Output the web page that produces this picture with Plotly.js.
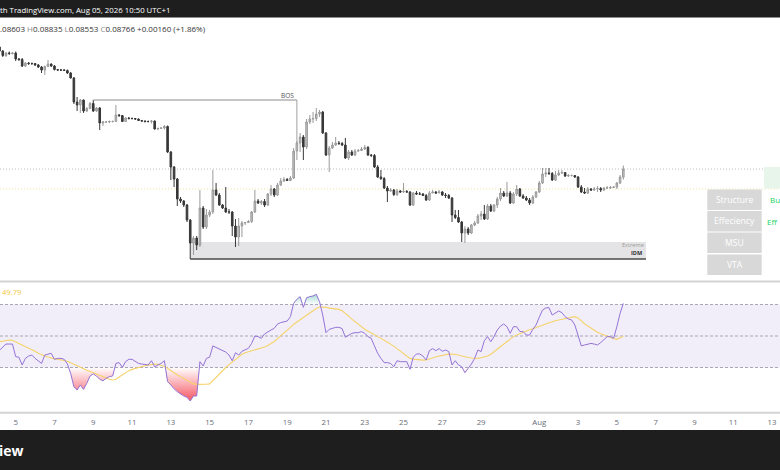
<!DOCTYPE html>
<html><head><meta charset="utf-8">
<script src="https://cdn.plot.ly/plotly-3.0.1.min.js"></script>
<style>html,body{margin:0;padding:0;background:#fff;overflow:hidden}#chart{width:780px;height:470px}</style>
</head><body><div id="chart"></div>
<script>
// ---- data (4h candles) ----
const barStart = '2026-07-04T04:00:00Z';
const barHours = 4;
const open = [0.11206,0.11126,0.11036,0.11086,0.11076,0.11086,0.10966,0.10956,0.10826,0.10886,
0.10876,0.10876,0.10846,0.10806,0.10746,0.10816,0.10866,0.10826,0.10756,0.10746,
0.10746,0.10736,0.10686,0.10586,0.10106,0.10046,0.10146,0.09926,0.09976,0.10076,
0.09926,0.09986,0.09686,0.09706,0.09706,0.09716,0.09716,0.09846,0.09836,0.09716,
0.09786,0.09776,0.09776,0.09766,0.09736,0.09726,0.09716,0.09716,0.09726,0.09566,
0.09576,0.09586,0.09616,0.09106,0.08806,0.08566,0.08166,0.08126,0.08046,0.07746,
0.07286,0.07386,0.07246,0.07986,0.07606,0.07846,0.07906,0.08346,0.08246,0.08046,
0.07986,0.07906,0.07906,0.07626,0.07406,0.07626,0.07686,0.07696,0.07716,0.07906,
0.08126,0.08086,0.08116,0.08046,0.08266,0.08366,0.08246,0.08446,0.08526,0.08556,
0.08536,0.08586,0.09126,0.09286,0.09406,0.09206,0.09706,0.09766,0.09776,0.09866,
0.09906,0.09486,0.09046,0.09186,0.09246,0.09286,0.09276,0.09246,0.08986,0.09106,
0.09046,0.09126,0.09136,0.09166,0.09196,0.09046,0.09036,0.08806,0.08606,0.08576,
0.08386,0.08326,0.08346,0.08256,0.08326,0.08306,0.08316,0.08306,0.08046,0.08286,
0.08266,0.08266,0.08236,0.08146,0.08286,0.08306,0.08286,0.08306,0.08246,0.08236,
0.08186,0.07846,0.07796,0.07706,0.07486,0.07566,0.07486,0.07646,0.07686,0.07826,
0.07866,0.07766,0.08026,0.07926,0.08046,0.08166,0.08286,0.08226,0.08286,0.08086,
0.08266,0.08366,0.08226,0.08186,0.08146,0.08086,0.08206,0.08306,0.08486,0.08666,
0.08686,0.08676,0.08546,0.08646,0.08686,0.08696,0.08626,0.08636,0.08636,0.08606,
0.08406,0.08306,0.08286,0.08366,0.08346,0.08366,0.08376,0.08346,0.08386,0.08386,
0.08396,0.08406,0.08486,0.08603];
const high = [0.11226,0.11146,0.11106,0.11116,0.11106,0.11116,0.10986,0.10986,0.10906,0.10906,
0.10896,0.10886,0.10866,0.10826,0.10836,0.10946,0.10876,0.10846,0.10766,0.10766,
0.10766,0.10756,0.10706,0.10606,0.10206,0.10166,0.10156,0.10006,0.10106,0.10146,
0.10006,0.10006,0.09726,0.09726,0.09736,0.09736,0.10046,0.09866,0.09846,0.09806,
0.09806,0.09796,0.09786,0.09776,0.09746,0.09736,0.09736,0.09746,0.09736,0.09596,
0.09606,0.09646,0.09636,0.09126,0.08826,0.08586,0.08206,0.08146,0.08066,0.07766,
0.07426,0.07426,0.08346,0.08026,0.07966,0.07946,0.08746,0.08486,0.08286,0.08066,
0.08406,0.07966,0.07926,0.07766,0.07786,0.07726,0.07706,0.07746,0.07926,0.08346,
0.08166,0.08146,0.08166,0.08286,0.08446,0.08386,0.08486,0.08586,0.08606,0.08586,
0.08626,0.09186,0.09326,0.09486,0.09446,0.09766,0.09846,0.09906,0.09986,0.09946,
0.09926,0.09506,0.09226,0.09306,0.09406,0.09326,0.09306,0.09386,0.09146,0.09146,
0.09166,0.09166,0.09206,0.09246,0.09226,0.09066,0.09066,0.08846,0.08746,0.08606,
0.08426,0.08386,0.08366,0.08366,0.08346,0.08486,0.08346,0.08326,0.08306,0.08326,
0.08306,0.08286,0.08266,0.08326,0.08346,0.08326,0.08346,0.08326,0.08286,0.08266,
0.08206,0.07946,0.07946,0.07726,0.07626,0.07606,0.07666,0.07726,0.07866,0.07926,
0.08046,0.08066,0.08066,0.08066,0.08206,0.08386,0.08326,0.08506,0.08326,0.08306,
0.08446,0.08386,0.08266,0.08226,0.08186,0.08246,0.08326,0.08526,0.08786,0.08786,
0.08786,0.08706,0.08726,0.08746,0.08746,0.08706,0.08666,0.08656,0.08646,0.08626,
0.08446,0.08386,0.08406,0.08386,0.08406,0.08426,0.08406,0.08406,0.08426,0.08426,
0.08426,0.08506,0.08646,0.08835];
const low = [0.11106,0.11006,0.11006,0.11046,0.11056,0.10926,0.10926,0.10806,0.10806,0.10846,
0.10846,0.10826,0.10786,0.10686,0.10646,0.10806,0.10806,0.10736,0.10726,0.10726,
0.10726,0.10666,0.10576,0.10066,0.09926,0.09886,0.09886,0.09906,0.09966,0.09906,
0.09906,0.09546,0.09626,0.09686,0.09686,0.09696,0.09706,0.09806,0.09706,0.09706,
0.09756,0.09756,0.09746,0.09726,0.09706,0.09696,0.09696,0.09676,0.09556,0.09546,
0.09566,0.09556,0.09086,0.08546,0.08406,0.08026,0.08086,0.08006,0.07706,0.06966,
0.07046,0.07146,0.07206,0.07566,0.07566,0.07806,0.07866,0.08226,0.08026,0.07966,
0.07886,0.07866,0.07426,0.07206,0.07226,0.07406,0.07646,0.07686,0.07686,0.07886,
0.08066,0.08046,0.08006,0.08026,0.08226,0.08206,0.08226,0.08426,0.08506,0.08526,
0.08526,0.08566,0.08946,0.09106,0.08946,0.09166,0.09666,0.09686,0.09726,0.09806,
0.09466,0.09026,0.08706,0.09166,0.09226,0.09246,0.09226,0.08966,0.08946,0.09026,
0.09026,0.09106,0.09126,0.09146,0.09026,0.09006,0.08786,0.08586,0.08546,0.08366,
0.08106,0.08306,0.08226,0.08226,0.08286,0.08286,0.08286,0.08026,0.08026,0.08246,
0.08246,0.08226,0.08126,0.08126,0.08286,0.08266,0.08286,0.08226,0.08186,0.08166,
0.07706,0.07766,0.07686,0.07306,0.07286,0.07446,0.07466,0.07626,0.07666,0.07746,
0.07746,0.07746,0.07906,0.07906,0.07986,0.08126,0.08206,0.08206,0.08066,0.08066,
0.08226,0.08206,0.08166,0.08126,0.08046,0.08066,0.08186,0.08286,0.08466,0.08606,
0.08646,0.08526,0.08526,0.08626,0.08666,0.08606,0.08606,0.08616,0.08586,0.08386,
0.08286,0.08266,0.08266,0.08326,0.08326,0.08306,0.08306,0.08326,0.08366,0.08366,
0.08386,0.08366,0.08466,0.08553];
const close = [0.11126,0.11036,0.11086,0.11076,0.11086,0.10966,0.10956,0.10826,0.10886,0.10876,
0.10876,0.10846,0.10806,0.10746,0.10816,0.10866,0.10826,0.10756,0.10746,0.10746,
0.10736,0.10686,0.10586,0.10106,0.10046,0.10146,0.09926,0.09976,0.10076,0.09926,
0.09986,0.09686,0.09706,0.09706,0.09716,0.09716,0.09846,0.09836,0.09716,0.09786,
0.09776,0.09776,0.09766,0.09736,0.09726,0.09716,0.09716,0.09726,0.09566,0.09576,
0.09586,0.09616,0.09106,0.08806,0.08566,0.08166,0.08126,0.08046,0.07746,0.07286,
0.07386,0.07246,0.07986,0.07606,0.07846,0.07906,0.08346,0.08246,0.08046,0.07986,
0.07906,0.07906,0.07626,0.07406,0.07626,0.07686,0.07696,0.07716,0.07906,0.08126,
0.08086,0.08116,0.08046,0.08266,0.08366,0.08246,0.08446,0.08526,0.08556,0.08536,
0.08586,0.09126,0.09286,0.09406,0.09206,0.09706,0.09766,0.09776,0.09866,0.09906,
0.09486,0.09046,0.09186,0.09246,0.09286,0.09276,0.09246,0.08986,0.09106,0.09046,
0.09126,0.09136,0.09166,0.09196,0.09046,0.09036,0.08806,0.08606,0.08576,0.08386,
0.08326,0.08346,0.08256,0.08326,0.08306,0.08316,0.08306,0.08046,0.08286,0.08266,
0.08266,0.08236,0.08146,0.08286,0.08306,0.08286,0.08306,0.08246,0.08236,0.08186,
0.07846,0.07796,0.07706,0.07486,0.07566,0.07486,0.07646,0.07686,0.07826,0.07866,
0.07766,0.08026,0.07926,0.08046,0.08166,0.08286,0.08226,0.08286,0.08086,0.08266,
0.08366,0.08226,0.08186,0.08146,0.08086,0.08206,0.08306,0.08486,0.08666,0.08686,
0.08676,0.08546,0.08646,0.08686,0.08696,0.08626,0.08636,0.08636,0.08606,0.08406,
0.08306,0.08286,0.08366,0.08346,0.08366,0.08376,0.08346,0.08386,0.08386,0.08396,
0.08406,0.08486,0.08606,0.08766];
const rsi = [41.0,42.8,44.9,44.9,44.9,36.9,36.5,31.6,35.8,37.3,
37.9,35.8,34.3,32.6,37.9,38.6,39.0,35.2,35.8,35.8,
35.2,32.2,26.3,17.8,15.7,18.9,16.1,20.0,24.6,25.9,
24.6,22.5,21.6,23.1,24.2,24.6,32.6,33.1,30.1,33.7,
35.2,35.2,33.7,32.6,32.2,31.8,31.6,34.3,30.5,31.6,
32.6,34.3,21.0,18.9,16.4,14.7,13.0,11.9,11.1,8.7,
11.9,11.9,33.7,31.0,35.8,36.5,43.7,42.6,41.5,40.7,
39.8,37.9,34.3,39.4,37.9,40.3,41.1,42.2,45.3,50.0,
49.6,48.5,51.3,52.3,53.8,54.9,57.6,58.5,59.1,59.5,
62.3,70.7,73.3,75.0,68.2,74.3,75.0,75.4,76.5,71.8,
63.3,52.1,54.2,55.1,55.5,55.5,54.7,49.2,50.6,51.7,
52.1,52.1,52.8,51.7,49.6,48.5,43.7,39.0,35.8,33.1,
33.1,32.6,30.5,34.3,33.7,33.7,33.7,28.8,36.5,38.6,
38.6,37.3,34.8,40.7,42.0,40.7,42.0,40.3,41.1,40.1,
31.6,34.3,31.6,30.5,26.7,29.5,32.2,35.8,41.1,40.1,
47.0,49.6,46.4,49.6,53.8,56.3,57.6,55.9,51.7,55.9,
55.9,52.8,52.8,50.6,50.6,54.2,57.0,61.9,66.5,67.8,
68.0,63.3,64.8,65.9,64.8,62.3,60.8,60.2,57.0,49.6,
43.7,44.3,44.9,45.3,44.9,44.3,45.8,47.9,49.6,49.6,
48.5,55.9,64.4,70.7];
const rsiMA = [46.4,46.8,47.2,47.5,47.3,46.5,45.2,44.3,43.4,42.4,
41.5,40.3,39.0,37.9,37.3,36.7,36.0,35.5,35.2,34.9,
34.5,34.0,33.0,32.0,30.8,30.0,29.0,28.2,27.5,26.7,
25.7,24.8,23.8,23.0,22.5,22.1,22.5,24.0,25.5,27.0,
28.0,28.8,29.5,30.0,30.6,31.1,31.5,31.9,32.2,32.0,
31.5,30.7,29.5,28.0,26.6,25.3,24.3,23.0,21.8,20.5,
19.6,19.3,19.2,19.3,19.4,19.6,21.8,24.0,26.3,28.2,
30.0,31.8,33.5,35.2,36.9,38.4,39.4,40.0,40.5,41.0,
41.4,42.0,43.0,44.0,45.0,46.5,48.3,50.0,51.5,53.5,
55.5,57.5,59.0,60.2,61.8,63.3,64.8,66.3,67.5,68.4,
68.5,68.2,67.7,67.4,67.1,66.9,66.0,64.5,62.6,60.7,
59.0,57.5,56.0,54.3,53.0,52.0,50.9,49.7,48.5,47.3,
46.1,45.0,43.6,42.0,40.3,38.8,37.3,35.8,35.3,35.0,
34.8,34.7,34.8,35.3,36.0,36.8,37.3,37.8,38.2,38.5,
38.6,38.4,37.9,37.3,36.7,36.3,36.0,35.8,35.8,36.2,
36.7,37.3,38.4,40.0,41.5,43.0,44.8,46.5,48.2,49.6,
50.7,51.6,52.5,53.4,54.0,54.6,55.2,55.9,56.8,57.6,
58.4,59.1,59.7,60.2,60.7,61.1,61.5,62.0,62.3,61.5,
59.4,57.8,56.3,54.9,53.6,52.4,51.5,50.6,49.9,49.3,
48.4,47.9,48.8,49.79];
const tickDates = ['2026-07-05','2026-07-07','2026-07-09','2026-07-11','2026-07-13','2026-07-15','2026-07-17',
'2026-07-19','2026-07-21','2026-07-23','2026-07-25','2026-07-27','2026-07-29','2026-08-01','2026-08-03',
'2026-08-05','2026-08-07','2026-08-09','2026-08-11','2026-08-13'];
const tickLabels = ['5','7','9','11','13','15','17','19','21','23','25','27','29','Aug','3','5','7','9','11','13'];
const yellowLevel = 0.08366;
const extremeTop = 0.07306;
const extremeEnd = '2026-08-06 12:00';
const bosFromIdx = 29, bosToIdx = 92;
const tableRows = ['Structure','Effeciency','MSU','VTA'];
const tableValues = ['Bu','Eff'];
const rsiLevels = [70, 50, 30];

// ---- layout helpers ----
const W = 780, H = 470;
const px = x => x / W, py = y => 1 - y / H;
const t0 = Date.parse(barStart);
const times = open.map((_, i) => new Date(t0 + i * barHours * 3600e3).toISOString().slice(0, 19).replace('T', ' '));
const xRange = ['2026-07-04 04:34:10', '2026-08-13 09:55:00'];
const n = close.length;
const lastO = open[n-1], lastH = high[n-1], lastL = low[n-1], lastC = close[n-1];
const chg = lastC - close[n-2];
const chgPct = chg / close[n-2] * 100;
const bosLevel = high[bosFromIdx];
const extremeBottom = Math.min(...low);
const extremeStart = times[low.indexOf(extremeBottom)];
const FONT = 'Open Sans, Noto Sans, sans-serif';

const traces = [
  {type:'candlestick', x:times, open:open, high:high, low:low, close:close, xaxis:'x', yaxis:'y',
   increasing:{line:{color:'#9a9a9a', width:1}, fillcolor:'#c4c4c4'},
   decreasing:{line:{color:'#383838', width:1}, fillcolor:'#383838'},
   whiskerwidth:0, hoverinfo:'skip', showlegend:false},
  {type:'scatter', mode:'lines', x:times, y:rsi.map(() => 30), xaxis:'x2', yaxis:'y2', line:{width:0}, hoverinfo:'skip'},
  {type:'scatter', mode:'lines', x:times, y:rsi.map(v => Math.min(v, 30)), xaxis:'x2', yaxis:'y2', line:{width:0},
   fill:'tonexty', fillgradient:{type:'vertical', start:6, stop:30,
   colorscale:[[0,'rgba(242,54,69,0.95)'],[1,'rgba(242,54,69,0)']]}, hoverinfo:'skip'},
  {type:'scatter', mode:'lines', x:times, y:rsi.map(() => 70), xaxis:'x2', yaxis:'y2', line:{width:0}, hoverinfo:'skip'},
  {type:'scatter', mode:'lines', x:times, y:rsi.map(v => Math.max(v, 70)), xaxis:'x2', yaxis:'y2', line:{width:0},
   fill:'tonexty', fillgradient:{type:'vertical', start:70, stop:80,
   colorscale:[[0,'rgba(8,153,129,0)'],[1,'rgba(8,153,129,0.55)']]}, hoverinfo:'skip'},
  {type:'scatter', mode:'lines', x:times, y:rsiMA, xaxis:'x2', yaxis:'y2', line:{color:'#f5d36a', width:1.1}, hoverinfo:'skip'},
  {type:'scatter', mode:'lines', x:times, y:rsi, xaxis:'x2', yaxis:'y2', line:{color:'#9373d6', width:1}, hoverinfo:'skip'}
];

const shapes = [
  {type:'rect', xref:'paper', yref:'y2', x0:0, x1:1, y0:30, y1:70, fillcolor:'rgba(126,87,194,0.10)', line:{width:0}, layer:'below'},
  ...rsiLevels.map(v => ({type:'line', xref:'paper', yref:'y2', x0:0, x1:1, y0:v, y1:v,
     line:{color:'#a8a6b4', width:1, dash:'3px,2px'}, layer:'below'})),
  {type:'rect', xref:'x', yref:'y', x0:extremeStart, x1:extremeEnd, y0:extremeBottom, y1:extremeTop,
   fillcolor:'#e4e4e6', line:{width:0}, layer:'below'},
  {type:'line', xref:'x', yref:'y', x0:extremeStart, x1:extremeEnd, y0:extremeBottom, y1:extremeBottom,
   line:{color:'#4a4a4a', width:1.5}, layer:'below'},
  {type:'line', xref:'paper', yref:'y', x0:0, x1:px(764), y0:lastC, y1:lastC, line:{color:'#bdbdbd', width:1, dash:'1px,2px'}, layer:'below'},
  {type:'line', xref:'paper', yref:'y', x0:0, x1:1, y0:yellowLevel, y1:yellowLevel, line:{color:'#efe3a0', width:1, dash:'1px,2px'}, layer:'below'},
  {type:'line', xref:'x', yref:'y', x0:times[bosFromIdx], x1:times[bosToIdx], y0:bosLevel, y1:bosLevel, line:{color:'#8c8c8c', width:1}},
  {type:'line', xref:'x', yref:'y', x0:times[bosToIdx], x1:times[bosToIdx], y0:bosLevel, y1:close[bosToIdx], line:{color:'#a0a0a0', width:1}},
  {type:'line', xref:'paper', yref:'paper', x0:0, x1:1, y0:py(281.5), y1:py(281.5), line:{color:'#d4d4d4', width:2}},
  {type:'line', xref:'paper', yref:'paper', x0:0, x1:1, y0:py(412.8), y1:py(412.8), line:{color:'#d4d4d4', width:2}},
  {type:'rect', xref:'paper', yref:'paper', x0:0, x1:1, y0:py(17.5), y1:1, fillcolor:'#1e1e1e', line:{width:0}},
  {type:'rect', xref:'paper', yref:'paper', x0:0, x1:1, y0:0, y1:py(430), fillcolor:'#1e1e1e', line:{width:0}},
  {type:'rect', xref:'paper', yref:'paper', x0:px(764), x1:1, y0:py(188.5), y1:py(167), fillcolor:'#e7f5eb', line:{width:0}}
];
const rowTops = [189.5, 211, 232.5, 254.5];
rowTops.forEach(t => shapes.push({type:'rect', xref:'paper', yref:'paper', x0:px(707.3), x1:px(761.7),
  y0:py(t + 20.5), y1:py(t), fillcolor:'#d8d8d8', line:{width:0}}));

const g = c => '<span style="color:#8a8a8a">' + c + '</span>';
const ohlcText = lastO.toFixed(5).slice(1) + ' ' + g('H') + lastH.toFixed(5) + ' ' + g('L') + lastL.toFixed(5) + ' ' +
  g('C') + lastC.toFixed(5) + ' ' + (chg >= 0 ? '+' : '') + chg.toFixed(5) + ' (' + (chgPct >= 0 ? '+' : '') + chgPct.toFixed(2) + '%)';

const annotations = [
  {xref:'paper', yref:'paper', x:0, y:py(10.5), xanchor:'left', yanchor:'middle', showarrow:false, xshift:-2,
   text:'th TradingView.com, Aug 05, 2026 10:50 UTC+1', font:{family:FONT, size:7.8, color:'#ffffff'}},
  {xref:'paper', yref:'paper', x:0, y:py(28.5), xanchor:'left', yanchor:'middle', showarrow:false, xshift:-2,
   text:ohlcText, font:{family:FONT, size:8, color:'#333333'}},
  {xref:'paper', yref:'paper', x:px(1), y:py(291.5), xanchor:'left', yanchor:'middle', showarrow:false, xshift:-1,
   text:rsiMA[n-1].toFixed(2), font:{family:FONT, size:7.6, color:'#f2c744'}},
  {xref:'x', yref:'y', x:times[bosToIdx], y:bosLevel, xanchor:'right', yanchor:'bottom', showarrow:false, xshift:-2, yshift:-1,
   borderpad:0, text:'BOS', font:{family:FONT, size:6.5, color:'#555555'}},
  {xref:'x', yref:'y', x:extremeEnd, y:extremeTop, xanchor:'right', yanchor:'top', showarrow:false, xshift:-1, yshift:2,
   borderpad:0, text:'Extreme', font:{family:FONT, size:5.6, color:'#9a9a9a'}},
  {xref:'x', yref:'y', x:extremeEnd, y:extremeBottom, xanchor:'right', yanchor:'bottom', showarrow:false, xshift:-3, yshift:1,
   borderpad:0, text:'<b>IDM</b>', font:{family:FONT, size:5.6, color:'#333333'}},
  {xref:'paper', yref:'paper', x:0, y:py(450), xanchor:'left', yanchor:'middle', showarrow:false, xshift:-3,
   text:'<b>iew</b>', font:{family:FONT, size:14, color:'#ffffff'}}
];
tableRows.forEach((r, k) => annotations.push({xref:'paper', yref:'paper', x:px(734.5), y:py(rowTops[k] + 10.25),
  xanchor:'center', yanchor:'middle', showarrow:false, text:r, font:{family:FONT, size:8.6, color:'#ffffff'}}));
tableValues.forEach((v, k) => annotations.push({xref:'paper', yref:'paper', x:px(k === 0 ? 770 : 766.5), y:py(rowTops[k] + 10.25),
  xanchor:'left', yanchor:'middle', showarrow:false, xshift:-1, borderpad:0, text:v, font:{family:FONT, size:8, color:'#19d35f'}}));

const layout = {
  width:W, height:H, autosize:false, margin:{l:0, r:0, t:0, b:0, pad:0},
  paper_bgcolor:'#ffffff', plot_bgcolor:'rgba(0,0,0,0)', showlegend:false, hovermode:false,
  xaxis:{type:'date', range:xRange, domain:[0,1], anchor:'y', visible:false, rangeslider:{visible:false}, fixedrange:true},
  yaxis:{domain:[py(280), py(18)], range:[0.06546, 0.11786], visible:false, fixedrange:true},
  xaxis2:{type:'date', range:xRange, domain:[0,1], anchor:'y2', showgrid:false, zeroline:false, showline:false,
    tickmode:'array', tickvals:tickDates, ticktext:tickLabels, ticks:'outside', ticklen:2, tickcolor:'rgba(0,0,0,0)',
    tickfont:{family:FONT, size:7.8, color:'#6a6d78'}, fixedrange:true},
  yaxis2:{domain:[py(413), py(282)], range:[1.11, 84.29], visible:false, fixedrange:true},
  shapes:shapes, annotations:annotations
};
Plotly.newPlot('chart', traces, layout, {displayModeBar:false, staticPlot:true});
</script></body></html>
